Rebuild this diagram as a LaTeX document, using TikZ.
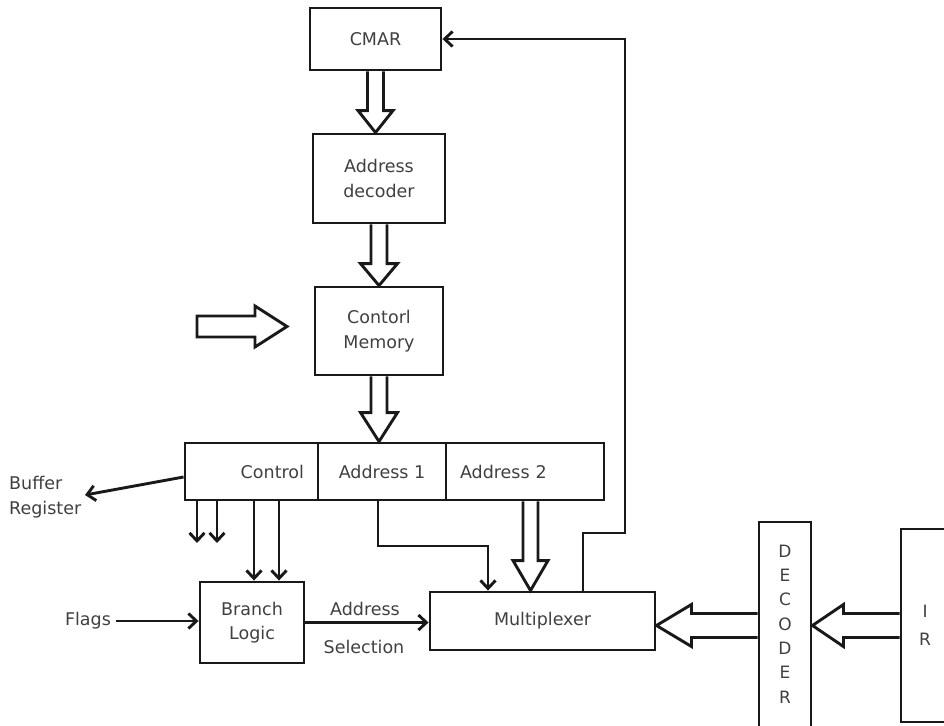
\documentclass[tikz,border=0pt]{standalone}
\usepackage{fontspec}
\newfontfamily\dvs{DejaVu Sans}
\usetikzlibrary{arrows.meta,calc}
\tikzset{
  lw/.style={line width=2.9pt},
  txt/.style={text=black!75, font=\dvs\fontsize{17.5}{24.5}\selectfont},
  box/.style={draw=black!90, lw, inner sep=0pt, align=center, txt},
  lbl/.style={inner sep=0pt, align=center, txt},
  arr/.style={draw=black!90, lw, -{Straight Barb[length=8pt,width=15pt]}},
  hollow/.style={draw=black!90, lw, line join=miter},
}
% start, tip, shaft half width, head half width, head length
\newcommand\HollowDown[5]{\draw[hollow] let \p1=#1, \p2=#2 in
  (\x1-#3pt,\y1) -- (\x1-#3pt,\y2+#5pt) -- (\x1-#4pt,\y2+#5pt) -- (\x1,\y2)
  -- (\x1+#4pt,\y2+#5pt) -- (\x1+#3pt,\y2+#5pt) -- (\x1+#3pt,\y1);}
\newcommand\HollowLeft[5]{\draw[hollow] let \p1=#1, \p2=#2 in
  (\x1,\y1+#3pt) -- (\x2+#5pt,\y1+#3pt) -- (\x2+#5pt,\y1+#4pt) -- (\x2,\y1)
  -- (\x2+#5pt,\y1-#4pt) -- (\x2+#5pt,\y1-#3pt) -- (\x1,\y1-#3pt);}
\newcommand\HollowRight[5]{\draw[hollow] let \p1=#1, \p2=#2 in
  (\x1,\y1+#3pt) -- (\x2-#5pt,\y1+#3pt) -- (\x2-#5pt,\y1+#4pt) -- (\x2,\y1)
  -- (\x2-#5pt,\y1-#4pt) -- (\x2-#5pt,\y1-#3pt) -- (\x1,\y1-#3pt) -- cycle;}
\begin{document}
\begin{tikzpicture}[x=1pt,y=-1pt]
\useasboundingbox (0,0) rectangle (944,725);
% boxes
\node[box, minimum width=131pt, minimum height=62pt] (cmar) at (375.5,39) {CMAR};
\node[box, minimum width=132pt, minimum height=89pt] (adec) at (379,178.5) {Address\\decoder};
\node[box, minimum width=128pt, minimum height=88pt] (cmem) at (379,331) {Contorl\\Memory};
\node[box, minimum height=57pt, text width=105pt, inner xsep=14pt, align=right] (ctrl) at (251.5,471.5) {Control};
\node[box, minimum width=128pt, minimum height=57pt] (a1) at (382,471.5) {Address 1};
\node[box, minimum height=57pt, text width=130pt, inner xsep=14pt, align=left] (a2) at (525,471.5) {Address 2};
\node[box, minimum width=104pt, minimum height=81pt] (bl) at (252,622.5) {Branch\\Logic};
\node[box, minimum width=225pt, minimum height=58pt] (mux) at (542.5,621) {Multiplexer};
\node[box, minimum width=52pt, minimum height=218pt] (dec) at (785,631) {};
\node[lbl, font=\dvs\fontsize{17}{24.3}\selectfont] (declbl) at (785,624) {D\\E\\C\\O\\D\\E\\R};
\node[box, minimum width=59pt, minimum height=193pt] (ir) at (930.5,625.5) {};
\node[lbl, font=\dvs\fontsize{17}{28}\selectfont] (irlbl) at (925,625) {I\\R};
% labels
\node[lbl, align=left, anchor=west] (buf) at (9,497) {Buffer\\Register};
\node[lbl] (flags) at (88,621) {Flags};
\node[lbl] (asel1) at (365,609) {Address};
\node[lbl] (asel2) at (364,647) {Selection};
% hollow arrows
\HollowDown{(cmar.south)}{(adec.north)}{8}{17.5}{22}
\HollowDown{(adec.south)}{(cmem.north)}{8}{18.5}{22}
\HollowDown{(cmem.south)}{(cmem.south |- a1.north)}{8}{18.5}{29}
\coordinate (q) at (530.5,0);
\HollowDown{(q |- a2.south)}{(q |- mux.north)}{7.5}{17.5}{30}
\HollowLeft{(dec.west |- ir.west)}{(mux.east |- ir.west)}{12}{21}{35}
\HollowLeft{(ir.west)}{(dec.east |- ir.west)}{12}{21}{31}
\coordinate (la1) at (197,326.5);
\coordinate (la2) at (287,326.5);
\HollowRight{(la1)}{(la2)}{10.5}{20.5}{32}
% thin arrows
\coordinate (bs) at (0,477);
\coordinate (bt) at (85,495);
\draw[arr] (bs -| ctrl.west) -- (bt);
\coordinate (c1) at (197,543);
\coordinate (c2) at (217,543);
\coordinate (c3) at (254,0);
\coordinate (c4) at (279,0);
\draw[arr] (c1 |- ctrl.south) -- (c1);
\draw[arr] (c2 |- ctrl.south) -- (c2);
\draw[arr] (c3 |- ctrl.south) -- (c3 |- bl.north);
\draw[arr] (c4 |- ctrl.south) -- (c4 |- bl.north);
\draw[arr] ([xshift=5pt]flags.east) -- (flags.east -| bl.west);
\draw[arr] (bl.east) -- (bl.east -| mux.west);
\coordinate (p1) at (378,546);
\coordinate (p2) at (488,546);
\draw[arr] (p1 |- a1.south) -- (p1) -- (p2) -- (p2 |- mux.north);
\coordinate (f1) at (583,533);
\coordinate (f2) at (625,533);
\draw[arr] (f1 |- mux.north) -- (f1) -- (f2) -- (f2 |- cmar.east) -- (cmar.east);
\end{tikzpicture}
\end{document}
